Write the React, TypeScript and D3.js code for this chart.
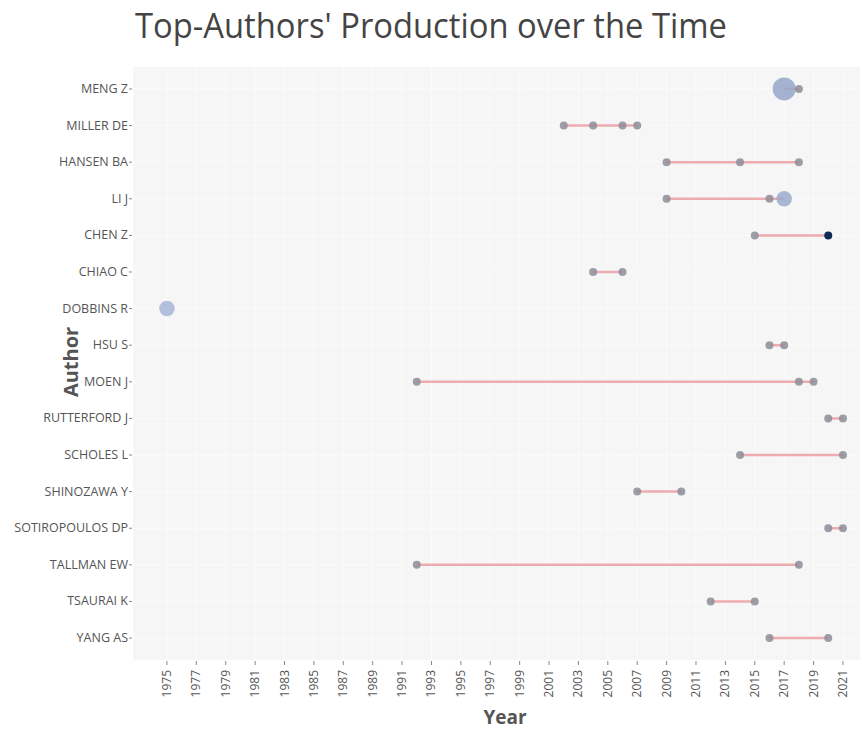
import React from "react";
import * as d3 from "d3";

const authors = [
  "MENG Z", "MILLER DE", "HANSEN BA", "LI J", "CHEN Z", "CHIAO C", "DOBBINS R", "HSU S",
  "MOEN J", "RUTTERFORD J", "SCHOLES L", "SHINOZAWA Y", "SOTIROPOULOS DP", "TALLMAN EW", "TSAURAI K", "YANG AS",
];

const pointAuthor = [
  "MENG Z", "MENG Z",
  "MILLER DE", "MILLER DE", "MILLER DE", "MILLER DE",
  "HANSEN BA", "HANSEN BA", "HANSEN BA",
  "LI J", "LI J", "LI J",
  "CHEN Z", "CHEN Z",
  "CHIAO C", "CHIAO C",
  "DOBBINS R",
  "HSU S", "HSU S",
  "MOEN J", "MOEN J", "MOEN J",
  "RUTTERFORD J", "RUTTERFORD J",
  "SCHOLES L", "SCHOLES L",
  "SHINOZAWA Y", "SHINOZAWA Y",
  "SOTIROPOULOS DP", "SOTIROPOULOS DP",
  "TALLMAN EW", "TALLMAN EW",
  "TSAURAI K", "TSAURAI K",
  "YANG AS", "YANG AS",
];
const pointYear = [
  2017, 2018,
  2002, 2004, 2006, 2007,
  2009, 2014, 2018,
  2009, 2016, 2017,
  2015, 2020,
  2004, 2006,
  1975,
  2016, 2017,
  1992, 2018, 2019,
  2020, 2021,
  2014, 2021,
  2007, 2010,
  2020, 2021,
  1992, 2018,
  2012, 2015,
  2016, 2020,
];
const pointFreq = [
  3, 1,
  1, 1, 1, 1,
  1, 1, 1,
  1, 1, 2,
  1, 1,
  1, 1,
  2,
  1, 1,
  1, 1, 1,
  1, 1,
  1, 1,
  1, 1,
  1, 1,
  1, 1,
  1, 1,
  1, 1,
];
const pointTcpy = [
  1.2, 0,
  0, 0, 0, 0,
  0, 0, 0,
  0, 0, 1.0,
  0, 6.0,
  0, 0,
  0.6,
  0, 0,
  0, 0, 0,
  0, 0,
  0, 0,
  0, 0,
  0, 0,
  0, 0,
  0, 0,
  0, 0,
];

const tickYears = d3.range(1975, 2022, 2);

const W = 862, H = 729;
const left = 133, right = 860, top = 67, bottom = 660;
const font = "'Open Sans', verdana, arial, sans-serif";

export default function App() {
  const x = d3.scaleLinear().domain([1972.69, 2022.16]).range([left, right]);
  const y = d3.scalePoint<string>().domain(authors).range([top, bottom]).padding(0.6);
  const r = d3.scaleLinear().domain([1, 3]).range([4, 11.5]);
  const col = d3.scaleLinear<string>().domain([0.5, 6]).range(["#a9b8da", "#0f2b5a"]);

  const points = pointAuthor.map((a, i) => ({ a, yr: pointYear[i], f: pointFreq[i], t: pointTcpy[i] }));
  const spans = authors.map((a) => {
    const ys = points.filter((p) => p.a === a).map((p) => p.yr);
    return { a, min: d3.min(ys) as number, max: d3.max(ys) as number };
  });

  return (
    <svg width={W} height={H} style={{ position: "absolute", left: 0, top: 0, background: "#fff" }}>
      <text x={135} y={38} fontFamily={font} fontSize={34} fill="#444" textLength={592} lengthAdjust="spacingAndGlyphs">
        Top-Authors' Production over the Time
      </text>
      <rect x={left} y={top} width={right - left} height={bottom - top} fill="#f6f6f6" />
      {tickYears.map((t) => (
        <line key={"g" + t} x1={x(t)} x2={x(t)} y1={top} y2={bottom} stroke="#fbfbfb" strokeWidth={1} />
      ))}
      {authors.map((a) => (
        <line key={"h" + a} x1={left} x2={right} y1={y(a)} y2={y(a)} stroke="#fbfbfb" strokeWidth={1} />
      ))}
      {spans.map((s) => (
        <line key={"s" + s.a} x1={x(s.min)} x2={x(s.max)} y1={y(s.a)} y2={y(s.a)}
          stroke="#eeabb0" strokeWidth={2.5} />
      ))}
      {points.map((p, i) => (
        <circle key={"p" + i} cx={x(p.yr)} cy={y(p.a)} r={r(p.f)}
          fill={p.t > 0 ? col(p.t) : "#8d8d99"} fillOpacity={p.t > 3 ? 1 : 0.85} />
      ))}
      {authors.map((a) => (
        <g key={"yl" + a}>
          <line x1={left - 4} x2={left - 1} y1={y(a)} y2={y(a)} stroke="#888" strokeWidth={1} />
          <text x={left - 5} y={(y(a) as number) + 4} textAnchor="end" fontFamily={font} fontSize={12.5} fill="#555">
            {a}
          </text>
        </g>
      ))}
      {tickYears.map((t) => (
        <g key={"xl" + t}>
          <line x1={x(t)} x2={x(t)} y1={bottom + 1} y2={bottom + 5} stroke="#888" strokeWidth={1} />
          <text transform={`translate(${x(t) + 4},${bottom + 10}) rotate(-90)`} textAnchor="end"
            fontFamily={font} fontSize={12} fill="#555">
            {t}
          </text>
        </g>
      ))}
      <text x={505} y={724} textAnchor="middle" fontFamily={font} fontSize={19}
        fontWeight="bold" fill="#555">Year</text>
      <text transform={`translate(78,362) rotate(-90)`} textAnchor="middle" fontFamily={font} fontSize={20}
        fontWeight="bold" fill="#555">Author</text>
    </svg>
  );
}
